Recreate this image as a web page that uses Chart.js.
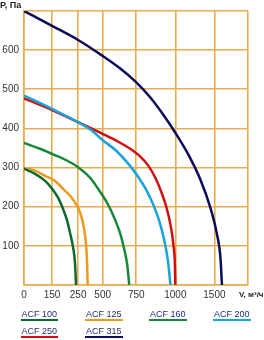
<!DOCTYPE html>
<html>
<head>
<meta charset="utf-8">
<script src="https://cdn.jsdelivr.net/npm/chart.js@4/dist/chart.umd.min.js"></script>
<style>
  html, body { margin: 0; padding: 0; background: #fff; }
  #wrap { position: relative; width: 264px; height: 340px; overflow: hidden; font-family: "Liberation Sans", Arial, sans-serif; }
  #box { position: absolute; left: 0; top: 0; width: 264px; height: 301px; }
  .ttl { position: absolute; font-weight: bold; color: #222; white-space: nowrap; }
  .lg { position: absolute; font-size: 9px; line-height: 10px; color: #1f2d78; padding: 0 1px; border-bottom: 2px solid; white-space: nowrap; }
</style>
</head>
<body>
<div id="wrap">
  <div id="box"><canvas id="c"></canvas></div>
  <div class="ttl" style="left:0px;top:0px;font-size:9px;">P, Па</div>
  <div class="ttl" style="left:239px;top:290px;font-size:8px;">V, м³/ч</div>
  <div id="legend"></div>
</div>
<script>
// ---- data (V in m³/h, P in Pa) ----
const X_TICKS = [0, 150, 250, 500, 750, 1000, 1500, 2000];
const Y_TICKS = [0, 100, 200, 300, 400, 500, 600, 700];
const SERIES_NAMES = ['ACF 100', 'ACF 125', 'ACF 160', 'ACF 200', 'ACF 250', 'ACF 315'];

const acf100_V = [0, 59, 113, 150, 173, 192, 208, 219, 231, 238, 242];
const acf100_P = [297, 284, 266, 246, 223, 195, 164, 133, 95, 56, 0];

const acf125_V = [0, 59, 113, 165, 196, 223, 246, 281, 311, 332, 342, 347];
const acf125_P = [299, 292, 279, 264, 243, 225, 202, 177, 143, 100, 51, 0];

const acf160_V = [0, 86, 150, 204, 250, 372, 474, 541, 593, 631, 660, 683, 698];
const acf160_P = [363, 348, 335, 319, 301, 274, 238, 205, 166, 131, 92, 51, 0];

const acf200_V = [0, 150, 250, 393, 495, 601, 690, 763, 814, 859, 897, 929, 952, 969];
const acf200_P = [484, 450, 416, 394, 371, 343, 310, 276, 243, 205, 164, 115, 64, 0];

const acf250_V = [0, 150, 250, 500, 616, 705, 776, 827, 872, 910, 942, 968, 987, 997, 1000];
const acf250_P = [477, 447, 416, 386, 366, 348, 328, 305, 274, 238, 200, 156, 105, 54, 0];

const acf315_V = [0, 150, 250, 495, 631, 743, 840, 923, 1000, 1167, 1321, 1449, 1530, 1590, 1612];
const acf315_P = [700, 662, 626, 586, 553, 520, 479, 435, 389, 333, 269, 197, 136, 69, 0];

// ---- styles ----
const COLORS = ['#0b6a2f', '#e99a1f', '#17883a', '#1aa2db', '#d20f10', '#0c0c5a'];
const GRID = 'rgb(234,172,82)';
// relative printed spacing between the (non-uniform) V grid lines
const X_GAPS = [28, 26, 24.5, 33.5, 39, 39, 33.5];

class PiecewiseScale extends Chart.LinearScale {
  getPixelForValue(v) {
    const total = X_GAPS.reduce((a, b) => a + b, 0);
    let acc = 0;
    for (let i = 0; i < X_GAPS.length; i++) {
      const a = X_TICKS[i], b = X_TICKS[i + 1];
      if (v <= b || i === X_GAPS.length - 1) { acc += X_GAPS[i] * (v - a) / (b - a); break; }
      acc += X_GAPS[i];
    }
    return this.getPixelForDecimal(acc / total);
  }
  getValueForPixel(p) {
    const total = X_GAPS.reduce((a, b) => a + b, 0);
    let d = this.getDecimalForPixel(p) * total;
    for (let i = 0; i < X_GAPS.length; i++) {
      if (d <= X_GAPS[i] || i === X_GAPS.length - 1) {
        return X_TICKS[i] + (X_TICKS[i + 1] - X_TICKS[i]) * d / X_GAPS[i];
      }
      d -= X_GAPS[i];
    }
  }
}
PiecewiseScale.id = 'piecewise';
PiecewiseScale.defaults = Chart.LinearScale.defaults;
Chart.register(PiecewiseScale);

const zip = (xs, ys) => xs.map((x, i) => ({ x: x, y: ys[i] }));
const seriesV = [acf100_V, acf125_V, acf160_V, acf200_V, acf250_V, acf315_V];
const seriesP = [acf100_P, acf125_P, acf160_P, acf200_P, acf250_P, acf315_P];

const datasets = SERIES_NAMES.map((name, i) => ({
  label: name,
  data: zip(seriesV[i], seriesP[i]),
  borderColor: COLORS[i],
  backgroundColor: COLORS[i],
  borderWidth: 2.5,
  pointRadius: 0,
  fill: false,
  cubicInterpolationMode: 'monotone'
}));

const tickFont = { family: '"Liberation Sans", Arial, sans-serif', size: 10 };

new Chart(document.getElementById('c'), {
  type: 'line',
  data: { datasets: datasets },
  options: {
    responsive: true,
    maintainAspectRatio: false,
    animation: false,
    layout: { padding: { top: 11, right: 16, left: 0, bottom: 0 } },
    plugins: { legend: { display: false }, tooltip: { enabled: false } },
    scales: {
      x: {
        type: 'piecewise',
        min: 0, max: 2000,
        afterBuildTicks: (axis) => { axis.ticks = X_TICKS.map(v => ({ value: v })); },
        afterFit: (axis) => { axis.height = 16; },
        grid: { color: GRID, lineWidth: 1.6, drawTicks: false },
        border: { color: GRID, width: 1.6 },
        ticks: {
          autoSkip: false, maxRotation: 0, padding: 4, color: '#333', font: tickFont,
          callback: (v) => (v === 2000 ? '' : String(v))
        }
      },
      y: {
        type: 'linear',
        min: 0, max: 700,
        afterBuildTicks: (axis) => { axis.ticks = Y_TICKS.map(v => ({ value: v })); },
        afterFit: (axis) => { axis.width = 24; },
        grid: { color: GRID, lineWidth: 1.6, drawTicks: false },
        border: { color: GRID, width: 1.6 },
        ticks: {
          padding: 5, color: '#333', font: tickFont,
          callback: (v) => (v === 0 || v === 700 ? '' : String(v))
        }
      }
    }
  }
});

// HTML legend built from the series
const LEG_POS = [[20.5, 309], [85, 309], [149, 309], [213, 309], [20.5, 326], [85, 326]];
const leg = document.getElementById('legend');
SERIES_NAMES.forEach((name, i) => {
  const d = document.createElement('div');
  d.className = 'lg';
  d.textContent = name;
  d.style.left = LEG_POS[i][0] + 'px';
  d.style.top = LEG_POS[i][1] + 'px';
  d.style.borderBottomColor = COLORS[i];
  leg.appendChild(d);
});
</script>
</body>
</html>
